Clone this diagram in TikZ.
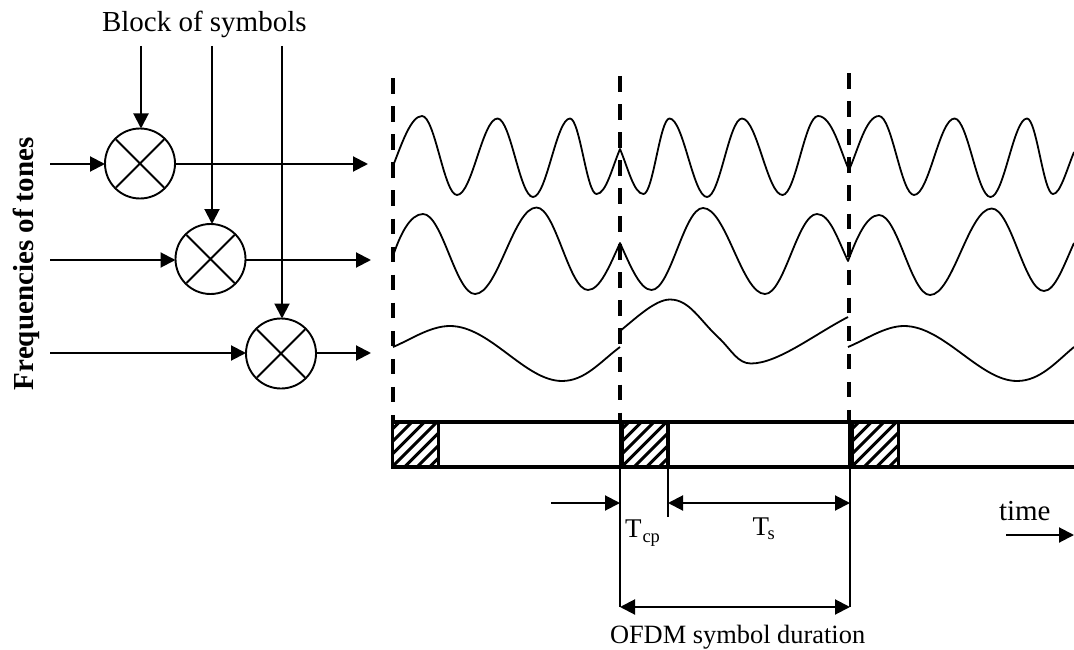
\documentclass[tikz,border=0pt]{standalone}
\usepackage{fontspec}
\setmainfont{Liberation Serif}
\usetikzlibrary{arrows.meta,calc}
\tikzset{
  wv/.style={to path={let \p1=(\tikztostart),\p2=(\tikztotarget),\n1={0.37*(\x2-\x1)} in .. controls +(\n1,0pt) and +(-\n1,0pt) .. (\tikztotarget)}},
  wave/.style={line width=1.8pt,line join=round},
  conn/.style={line width=2pt,-{Triangle[length=15pt,width=15pt]}},
  dim/.style={line width=2pt,{Triangle[length=15pt,width=15pt]}-{Triangle[length=15pt,width=15pt]}},
  ext/.style={line width=2pt},
  mix/.style={circle,draw,line width=1.9pt,minimum size=70pt,inner sep=0pt,outer sep=0pt},
  guide/.style={line width=4pt,dash pattern=on 15.6pt off 12.45pt},
  barline/.style={line width=4pt},
  lab/.style={anchor=base west,inner sep=0pt,outer sep=0pt},
}
\newcommand{\mult}[1]{\draw[line width=1.9pt] ($(#1)+(-24pt,-24pt)$) -- ($(#1)+(24pt,24pt)$) ($(#1)+(24pt,-24pt)$) -- ($(#1)+(-24pt,24pt)$);}
\newcommand{\hatchbox}[2]{%
  \begin{scope}
    \clip (#1,421.5) rectangle (#2,466.5);
    \foreach \k in {-5,...,7} {\draw[line width=3pt] ({#1+\k*12.5},466.5) -- ({#1+\k*12.5+45},421.5);}
  \end{scope}
  \draw[line width=3.6pt] (#1,421.5) rectangle (#2,466.5);}
\begin{document}
\begin{tikzpicture}[x=1pt,y=-1pt]
\useasboundingbox (0,0) rectangle (1074,650);
% labels
\node[lab,font=\fontsize{29}{29}\selectfont] (blk) at (102,32) {Block of symbols};
\node[lab,rotate=90,font=\fontsize{29}{29}\selectfont\bfseries] (frq) at (33,390) {Frequencies of tones};
% mixers
\node[mix] (m1) at (140,163.5) {};
\node[mix] (m2) at (210.5,259) {};
\node[mix] (m3) at (281,353.5) {};
\mult{m1}\mult{m2}\mult{m3}
% free ends
\coordinate (t1) at (141,46);\coordinate (t2) at (212,46);\coordinate (t3) at (282,46);
\coordinate (i1) at (50,164);\coordinate (i2) at (50,260);\coordinate (i3) at (50,353);
\coordinate (o1) at (368,164);\coordinate (o2) at (371,260);\coordinate (o3) at (371,353);
\draw[conn] (t1) -- (t1 |- m1.north);
\draw[conn] (t2) -- (t2 |- m2.north);
\draw[conn] (t3) -- (t3 |- m3.north);
\draw[conn] (i1) -- (i1 -| m1.west);
\draw[conn] (i2) -- (i2 -| m2.west);
\draw[conn] (i3) -- (i3 -| m3.west);
\draw[conn] (o1 -| m1.east) -- (o1);
\draw[conn] (o2 -| m2.east) -- (o2);
\draw[conn] (o3 -| m3.east) -- (o3);
% guides
\draw[guide] (393,78.3) -- (393,421);
\draw[guide] (620,76) -- (620,421);
\draw[guide] (849,73.3) -- (849,421);
% waves
\draw[wave] (393,166) .. controls (402,143) and (411,116) .. (422,116)
  to[wv] (457,195) to[wv] (497.5,118.5) to[wv] (533,197) to[wv] (570,118.5) to[wv] (596.5,194)
  .. controls (606,194) and (612,168) .. (620,149) .. controls (628,168) and (634,194) .. (643.5,194)
  to[wv] (669.5,118.5) to[wv] (707,197) to[wv] (742,118.5) to[wv] (782.5,195) to[wv] (818,116)
  .. controls (832,116) and (840,150) .. (849,170) .. controls (858,150) and (866,116) .. (879,116)
  to[wv] (914,195) to[wv] (954.5,118.5) to[wv] (990.5,197) to[wv] (1027,118.5) to[wv] (1053,194)
  .. controls (1060,194) and (1066,172) .. (1074,152);
\draw[wave] (393,256) .. controls (400,235) and (410,214) .. (423,214)
  to[wv] (475,294) to[wv] (536.5,207.5) to[wv] (588,290)
  .. controls (600,290) and (610,265) .. (620,243) .. controls (630,265) and (640,290) .. (651.5,290)
  to[wv] (703,208) to[wv] (765,294) to[wv] (817,214)
  .. controls (830,214) and (838,240) .. (848,261) .. controls (856,240) and (866,215) .. (879,215)
  to[wv] (930,295) to[wv] (991.7,208.5) to[wv] (1044,291)
  .. controls (1055,291) and (1064,265) .. (1074,243);
\draw[wave] (393,347) .. controls (410,340) and (430,326) .. (450,326)
  .. controls (490,326) and (525,381) .. (562,381) .. controls (585,381) and (600,362) .. (620,347);
\draw[wave] (620,331) .. controls (635,319) and (655,299.5) .. (670,299.5)
  .. controls (690,299.5) and (700,321) .. (720,339) .. controls (732,351) and (738,363.5) .. (751,363.5)
  .. controls (778,363.5) and (815,334) .. (848,317);
\draw[wave] (848,347) .. controls (865,340) and (885,326) .. (904,326)
  .. controls (944,326) and (980,381) .. (1017,381) .. controls (1040,381) and (1056,362) .. (1074,347);
% bar
\draw[barline] (391,421.5) -- (1074,421.5);
\draw[barline] (391,466.5) -- (1074,466.5);
\hatchbox{392.5}{438.5}
\hatchbox{622}{668}
\hatchbox{852}{898.5}
\draw[line width=3.6pt] (620.5,421.5) -- (620.5,466.5);
\draw[line width=5pt] (850,421.5) -- (850,466.5);
% dimensions
\coordinate (d1) at (620,468);\coordinate (d2) at (668,468);\coordinate (d3) at (850,468);
\coordinate (e1) at (620,607);\coordinate (e2) at (668,517);\coordinate (e3) at (850,607);
\coordinate (a0) at (551,503);
\draw[ext] (d1) -- (e1);
\draw[ext] (d2) -- (e2);
\draw[ext] (d3) -- (e3);
\draw[conn] (a0) -- (a0 -| d1);
\draw[dim] (d2 |- a0) -- (d3 |- a0);
\draw[dim] (e1) -- (e3);
\coordinate (tm0) at (1006,535);\coordinate (tm1) at (1074,535);
\draw[conn] (tm0) -- (tm1);
\node[lab,font=\fontsize{27}{27}\selectfont] (tcp) at (625,537) {T};
\node[lab,font=\fontsize{18.5}{18.5}\selectfont] (tcps) at (642.5,542) {cp};
\node[lab,font=\fontsize{27}{27}\selectfont] (ts) at (752.5,535) {T};
\node[lab,font=\fontsize{18.5}{18.5}\selectfont] (tss) at (767.5,539) {s};
\node[lab,font=\fontsize{29}{29}\selectfont] (tm) at (999,520.5) {time};
\node[lab,font=\fontsize{26.4}{26.4}\selectfont] (ofdm) at (610,643) {OFDM symbol duration};
\end{tikzpicture}
\end{document}
